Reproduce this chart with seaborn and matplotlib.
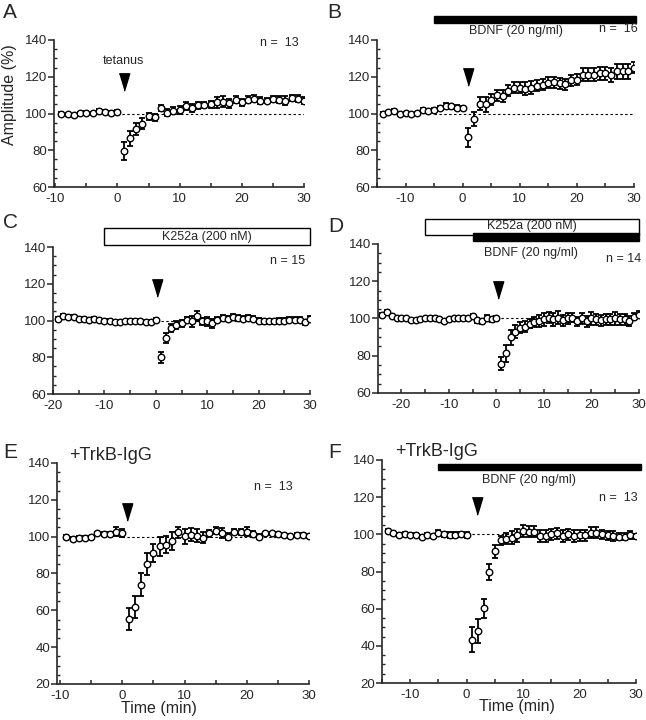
import numpy as np
import pandas as pd
import matplotlib
matplotlib.use("Agg")
import matplotlib.pyplot as plt
import seaborn as sns
from matplotlib.patches import Rectangle
from matplotlib.ticker import MultipleLocator, FixedLocator

sns.set_style("ticks")
plt.rcParams['font.family'] = ['Liberation Sans', 'DejaVu Sans']
plt.rcParams['axes.unicode_minus'] = False

# ---------------- data ----------------
A_time = list(range(-9, 31))
A_amp = [100, 99.5, 99, 100.3, 100.5, 100.2, 101.5, 101, 100.5, 101,
         79.6, 86.4, 91.6, 94.5, 98.5, 98, 103, 100.5, 101.5, 102,
         104, 103, 104.5, 104.5, 105, 106, 106.5, 105.5, 107.5, 106,
         107.5, 108, 107, 107, 108, 107.5, 107, 108.5, 108, 107]
A_err = [0.6, 0.6, 0.6, 0.6, 0.6, 0.6, 0.8, 0.7, 0.7, 1.0,
         5, 4, 3.5, 3, 2, 2, 1.5, 2, 2, 2,
         2, 2, 2, 1.5, 2, 3, 3, 2.5, 2, 2,
         2, 2, 2, 1.5, 1.5, 2, 2.5, 1.5, 2, 2]

B_time = list(range(-14, 31))
B_amp = [100, 100.9, 101.6, 99.6, 100.4, 99.6, 100.4, 102.1, 101.3, 102.1,
         103.2, 104.3, 103.9, 103.2, 103,
         87, 97, 105.4, 105, 107.5, 110, 109.5, 112.5, 114, 114,
         113.5, 114, 115, 115.7, 116.8, 117, 116.5, 116, 118, 118.5,
         121, 121, 121, 122, 122, 121, 123, 123, 123, 125]
B_err = [0.6, 0.6, 0.6, 0.6, 0.6, 0.6, 0.6, 0.8, 0.8, 0.8,
         1.0, 1.2, 1.2, 1.2, 1.2,
         5, 4, 3.5, 4, 3, 3, 3.5, 3, 3, 3,
         3.5, 3.5, 3, 3, 3, 3, 3, 3, 3, 3,
         3.5, 3.5, 3.5, 3.5, 3.5, 4, 4, 4, 4, 3]

C_time = list(range(-19, 31))
C_amp = [101, 102.5, 101.8, 102, 101, 101, 100.5, 101, 100.3, 100,
         100, 99.3, 99.3, 99.5, 100, 100, 100, 99.3, 99.3, 100.5,
         80, 90.5, 96, 97.5, 98.5, 100.4, 99.5, 102.5, 99.5, 99.5,
         98.5, 100.5, 101.5, 101, 102, 101.5, 101, 101.5, 101, 100,
         99.5, 99.5, 99.5, 100, 100, 100.5, 100.5, 100.5, 99, 101]
C_err = [1.0, 1.0, 1.0, 1.0, 0.8, 0.8, 0.8, 0.8, 0.8, 0.8,
         0.8, 0.8, 0.8, 1.0, 1.0, 1.0, 1.0, 0.8, 0.8, 0.8,
         3, 2.5, 2, 2, 2, 1.5, 3, 2.5, 2, 2.5,
         2.5, 1.5, 1.5, 1.5, 1.5, 1.5, 1.5, 1.5, 1.5, 1.5,
         1.5, 1.5, 1.5, 1.2, 1.2, 1.2, 1.2, 1.2, 1.5, 1.2]

D_time = list(range(-24, 31))
D_amp = [102, 103.5, 101.5, 100.5, 100, 100, 99, 99, 99.5, 100,
         100, 100.5, 99.5, 98.5, 99.5, 100, 100, 100, 100, 101.5,
         99, 98.5, 100.5, 99.5, 100,
         75.7, 81.4, 90, 92.8, 95.1, 95.5, 97.3, 98.2, 98.7, 99.5,
         100.5, 99.5, 100.5, 99, 100, 100.5, 98.4, 100, 98.4, 100,
         99.5, 99, 99.5, 99.5, 100, 99.5, 99.5, 98.7, 101, 102]
D_err = [1.0, 1.0, 0.8, 0.8, 0.8, 0.8, 0.8, 0.8, 0.8, 0.8,
         0.8, 0.8, 0.8, 0.8, 0.8, 0.8, 0.8, 0.8, 0.8, 1.0,
         1.2, 1.2, 1.2, 1.2, 1.2,
         3.5, 4.5, 4, 3.5, 3, 3, 2.5, 2.5, 3, 3.5,
         3, 3.5, 3.5, 3, 3, 2.5, 2.5, 3, 3, 3.5,
         3, 3, 3, 3, 3.5, 3, 3, 2.5, 2, 2]

E_time = list(range(-9, 31))
E_amp = [100, 98.7, 99.5, 99.1, 99.6, 101.8, 101.5, 101.5, 102.7, 102,
         55.5, 62, 74, 85, 91, 94.7, 95.6, 97.8, 102.4, 100.2,
         101, 100.5, 99.3, 101.8, 103.3, 102, 100, 102.7, 102.4, 102.7,
         101.5, 100, 101.8, 101.8, 101.5, 101, 100.2, 101, 101, 100.2]
E_err = [1, 1, 1, 1, 0.8, 1, 1, 1, 2.5, 2,
         6, 6, 6, 6, 5, 5, 4.5, 5, 3, 4,
         3.5, 3.5, 3, 2, 2, 2.5, 2, 1.5, 1.5, 2.5,
         1.5, 1.5, 1, 1, 1, 1, 1, 1, 1, 1]

F_time = list(range(-14, 31))
F_amp = [101.8, 100.9, 99.5, 100, 99.5, 99.6, 98.8, 99.5, 98.9, 100.9,
         100, 99.6, 99.6, 100, 99.6,
         43.4, 47.9, 60.2, 79.8, 91, 96.8, 97.7, 98.2, 99.5, 101.8,
         101.4, 101.4, 99.1, 99.1, 100, 100.5, 99.1, 100, 99.1, 99.5,
         99.5, 100.9, 100.9, 100, 99.5, 99.1, 98.8, 98.8, 99.6, 98.9]
F_err = [1, 1, 1, 1, 1, 1, 1, 1, 1, 1.5,
         1.5, 1.5, 1.5, 1.5, 1.5,
         6.5, 6.5, 5, 4.5, 3.5, 2.5, 3, 3.5, 3.5, 3,
         3, 3, 3, 3, 3, 3, 3, 3, 3, 3,
         3, 3, 3, 2.5, 2.5, 2.5, 2, 2, 2, 1.5]

panel_labels = ["A", "B", "C", "D", "E", "F"]
n_labels = ["n =  13", "n =  16", "n = 15", "n = 14", "n =  13", "n =  13"]

# ---------------- figure ----------------
W, H = 646, 720
fig = plt.figure(figsize=(W / 100, H / 100), dpi=100)


def rect(l, r, t, b):
    return [l / W, 1 - b / H, (r - l) / W, (b - t) / H]


arrow_marker = [(-0.6, 1), (0.6, 1), (0, -1)]


def panel(box, time, amp, err, xlim, ylim, xticks, dash_start, arrow_t, arrow_y):
    ax = fig.add_axes(box)
    ax.errorbar(time, amp, yerr=err, fmt='none', ecolor='black',
                elinewidth=1.3, capsize=1.9, capthick=1.3, zorder=2)
    df = pd.DataFrame({"Time": time, "Amp": amp})
    sns.scatterplot(data=df, x="Time", y="Amp", ax=ax, marker='o', s=22,
                    color='white', edgecolor='black', linewidth=1.0,
                    zorder=3, legend=False)
    ax.plot([dash_start, 30], [100, 100], color='black', lw=0.8,
            ls=(0, (2.2, 2.2)), zorder=1)
    ax.plot([arrow_t], [arrow_y], marker=arrow_marker, ms=12.5,
            color='black', ls='none', clip_on=False, zorder=4)
    ax.set_xlim(*xlim)
    ax.set_ylim(*ylim)
    ax.xaxis.set_major_locator(FixedLocator(xticks))
    ax.xaxis.set_minor_locator(MultipleLocator(5))
    ax.yaxis.set_major_locator(MultipleLocator(20))
    ax.yaxis.set_minor_locator(MultipleLocator(5))
    ax.spines[['top', 'right']].set_visible(False)
    for s in ('left', 'bottom'):
        ax.spines[s].set_linewidth(1.2)
    ax.tick_params(axis='y', which='major', direction='out', length=4,
                   width=1.1, labelsize=9.5, pad=1)
    ax.tick_params(axis='y', which='minor', direction='in', length=2.5, width=1)
    ax.tick_params(axis='x', which='both', direction='in', length=3,
                   width=1.1, labelsize=9.5, pad=4)
    ax.set_xlabel("")
    ax.set_ylabel("")
    return ax


axA = panel(rect(54, 304, 40, 187), A_time, A_amp, A_err, (-10.2, 30), (60, 140),
            [-10, 0, 10, 20, 30], 0, 1, 117.4)
axB = panel(rect(377, 634, 40, 187), B_time, B_amp, B_err, (-15, 30), (60, 140),
            [-10, 0, 10, 20, 30], -5, 1, 119.9)
axC = panel(rect(53, 310, 247, 394), C_time, C_amp, C_err, (-20, 30), (60, 140),
            [-20, -10, 0, 10, 20, 30], 0, 0.3, 117.9)
axD = panel(rect(378, 639, 244, 393), D_time, D_amp, D_err, (-24.9, 30), (60, 140),
            [-20, -10, 0, 10, 20, 30], 0, 0.4, 115.5)
axE = panel(rect(57, 309, 463, 684), E_time, E_amp, E_err, (-10.5, 30), (20, 140),
            [-10, 0, 10, 20, 30], 0, 0.7, 113.6)
axF = panel(rect(382, 636, 460, 683), F_time, F_amp, F_err, (-15, 30), (20, 140),
            [-10, 0, 10, 20, 30], 0, 1.8, 115.3)

fs = 9
# A
axA.text(1, 0.857, "tetanus", transform=axA.get_xaxis_transform(),
         ha='center', va='center', fontsize=fs)
axA.text(29.1, 0.98, n_labels[0], transform=axA.get_xaxis_transform(),
         ha='right', va='center', fontsize=fs)
axA.set_ylabel("Amplitude (%)", fontsize=11.5)
axA.yaxis.set_label_coords(-0.148, 0.626)

# B
tB = axB.get_xaxis_transform()
axB.add_patch(Rectangle((-5, 1.116), 35.4, 0.048, transform=tB,
                        facecolor='black', edgecolor='black', clip_on=False, zorder=5))
axB.text(9.3, 1.062, "BDNF (20 ng/ml)", transform=tB, ha='center', va='center',
         fontsize=fs, zorder=6)
axB.text(30.7, 1.074, n_labels[1], transform=tB, ha='right', va='center',
         fontsize=fs, zorder=6)

# C
tC = axC.get_xaxis_transform()
axC.add_patch(Rectangle((-10, 1.014), 40, 0.115, transform=tC,
                        facecolor='white', edgecolor='black', lw=1.0, clip_on=False, zorder=5))
axC.text(10, 1.071, "K252a (200 nM)", transform=tC, ha='center', va='center',
         fontsize=fs, zorder=6)
axC.text(29, 0.905, n_labels[2], transform=tC, ha='right', va='center', fontsize=fs)

# D
tD = axD.get_xaxis_transform()
axD.add_patch(Rectangle((-15, 1.060), 45, 0.108, transform=tD,
                        facecolor='white', edgecolor='black', lw=1.0, clip_on=False, zorder=5))
axD.add_patch(Rectangle((-5, 1.020), 35, 0.054, transform=tD,
                        facecolor='black', edgecolor='black', clip_on=False, zorder=6))
axD.text(7.5, 1.118, "K252a (200 nM)", transform=tD, ha='center', va='center',
         fontsize=fs, zorder=7)
axD.text(7.3, 0.940, "BDNF (20 ng/ml)", transform=tD, ha='center', va='center',
         fontsize=fs, zorder=7)
axD.text(30.4, 0.900, n_labels[3], transform=tD, ha='right', va='center', fontsize=fs)

# E
tE = axE.get_xaxis_transform()
axE.text(-8.5, 1.036, "+TrkB-IgG", transform=tE, ha='left', va='center', fontsize=13)
axE.text(27.3, 0.891, n_labels[4], transform=tE, ha='right', va='center', fontsize=fs)
axE.set_xlabel("Time (min)", fontsize=11.5)
axE.xaxis.set_label_coords(0.405, -0.077)

# F
tF = axF.get_xaxis_transform()
axF.text(-12.6, 1.036, "+TrkB-IgG", transform=tF, ha='left', va='center', fontsize=13)
axF.add_patch(Rectangle((-5, 0.955), 35.9, 0.027, transform=tF,
                        facecolor='black', edgecolor='black', clip_on=False, zorder=5))
axF.text(11, 0.912, "BDNF (20 ng/ml)", transform=tF, ha='center', va='center',
         fontsize=fs, zorder=6)
axF.text(30.2, 0.830, n_labels[5], transform=tF, ha='right', va='center', fontsize=fs)
axF.set_xlabel("Time (min)", fontsize=11.5)
axF.xaxis.set_label_coords(0.53, -0.072)

# panel letters
letter_pos = [(3, 13), (327, 13), (3, 222), (328, 227), (3, 453), (328, 452)]
for lab, (px, py) in zip(panel_labels, letter_pos):
    fig.text(px / W, 1 - py / H, lab, ha='left', va='center', fontsize=15)

fig.savefig("out.png", dpi=100)
